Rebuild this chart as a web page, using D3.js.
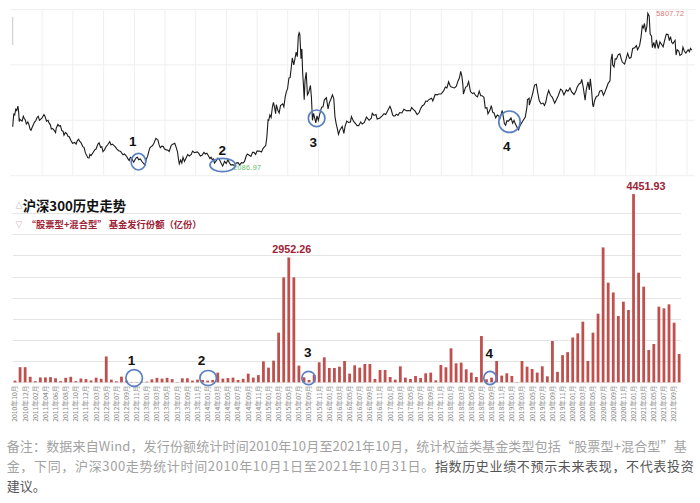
<!DOCTYPE html>
<html><head><meta charset="utf-8">
<script src="https://cdn.jsdelivr.net/npm/d3@7"></script>
<style>
html,body{margin:0;padding:0;background:#fff;}
svg{display:block;}
</style></head><body>
<svg id="c" width="700" height="503"></svg>
<script>
// ---------- DATA ----------
const categories = [
"2010年10月","2010年11月","2010年12月",
"2011年01月","2011年02月","2011年03月","2011年04月","2011年05月","2011年06月","2011年07月","2011年08月","2011年09月","2011年10月","2011年11月","2011年12月",
"2012年01月","2012年03月","2012年04月","2012年05月","2012年06月","2012年07月","2012年08月","2012年09月","2012年10月","2012年11月","2012年12月",
"2013年01月","2013年02月","2013年03月","2013年04月","2013年05月","2013年06月","2013年07月","2013年08月","2013年09月","2013年10月","2013年11月","2013年12月",
"2014年01月","2014年02月","2014年03月","2014年04月","2014年05月","2014年06月","2014年07月","2014年08月","2014年09月","2014年10月","2014年11月","2014年12月",
"2015年01月","2015年02月","2015年03月","2015年04月","2015年05月","2015年06月","2015年07月","2015年08月","2015年09月","2015年10月","2015年11月","2015年12月",
"2016年01月","2016年02月","2016年03月","2016年04月","2016年05月","2016年06月","2016年07月","2016年08月","2016年09月","2016年10月","2016年11月","2016年12月",
"2017年01月","2017年02月","2017年03月","2017年04月","2017年05月","2017年06月","2017年07月","2017年08月","2017年09月","2017年10月","2017年11月","2017年12月",
"2018年01月","2018年02月","2018年03月","2018年04月","2018年05月","2018年06月","2018年07月","2018年08月","2018年09月","2018年10月","2018年11月","2018年12月",
"2019年01月","2019年02月","2019年03月","2019年04月","2019年05月","2019年06月","2019年07月","2019年08月","2019年09月","2019年10月","2019年11月","2019年12月",
"2020年01月","2020年02月","2020年03月","2020年04月","2020年05月","2020年06月","2020年07月","2020年08月","2020年09月","2020年10月","2020年11月","2020年12月",
"2021年01月","2021年02月","2021年03月","2021年04月","2021年05月","2021年06月","2021年07月","2021年08月","2021年09月","2021年10月"
];
const issuance = [
40,358,358,
130,28,115,115,122,95,28,106,130,28,90,75,
44,110,83,612,63,24,134,40,8,8,12,
15,71,106,87,106,75,8,95,95,40,63,55,
40,55,229,87,100,110,55,83,205,110,170,496,
347,512,1174,2482,2952.26,2482,394,118,55,173,473,591,
339,339,370,504,205,402,347,433,433,79,292,292,
126,63,378,110,79,150,102,213,229,47,410,355,
804,449,465,307,229,126,1095,71,110,504,158,213,
150,8,504,370,315,229,378,142,977,248,642,713,
1060,1158,1434,504,1174,1623,3191,2356,2125,1568,1907,1710,
4451.93,2593,2262,764,906,1789,1749,1844,1410,670
];
const barPeakLabels = ["2015年05月","2021年01月"];
const barGridValues = [0,500,1000,1500,2000,2500,3000,3500,4000];

const csi300 = [
["2010-10-08",3044],["2010-10-13",3300],["2010-10-15",3350],["2010-10-20",3330],["2010-10-26",3470],["2010-11-01",3440],["2010-11-08",3545],["2010-11-12",3420],["2010-11-16",3170],["2010-11-19",3230],["2010-11-26",3200],["2010-12-03",3180],["2010-12-10",3300],["2010-12-15",3250],["2010-12-22",3210],["2010-12-28",3110],
["2011-01-06",3160],["2011-01-12",3100],["2011-01-20",2980],["2011-01-25",2960],["2011-02-01",3030],["2011-02-14",3150],["2011-02-22",3190],["2011-03-02",3270],["2011-03-09",3300],["2011-03-16",3200],["2011-03-24",3230],["2011-04-01",3260],["2011-04-12",3340],["2011-04-19",3290],["2011-04-27",3180],["2011-05-06",3200],["2011-05-13",3130],["2011-05-20",3090],["2011-05-26",2990],["2011-06-03",3000],["2011-06-13",2950],["2011-06-20",2900],["2011-06-24",3010],["2011-07-04",3100],["2011-07-11",3060],["2011-07-19",3070],["2011-07-27",2950],["2011-08-04",2930],["2011-08-09",2840],["2011-08-17",2900],["2011-08-25",2880],["2011-09-02",2810],["2011-09-09",2800],["2011-09-20",2700],["2011-09-29",2640],["2011-10-12",2660],["2011-10-20",2620],["2011-10-27",2700],["2011-11-04",2740],["2011-11-10",2690],["2011-11-18",2660],["2011-11-29",2560],["2011-12-06",2540],["2011-12-15",2400],["2011-12-23",2340],["2011-12-28",2290],
["2012-01-05",2280],["2012-01-10",2370],["2012-01-17",2340],["2012-01-31",2430],["2012-02-08",2480],["2012-02-16",2500],["2012-02-27",2620],["2012-03-05",2650],["2012-03-14",2540],["2012-03-21",2560],["2012-03-28",2440],["2012-04-06",2480],["2012-04-16",2560],["2012-04-26",2610],["2012-05-07",2680],["2012-05-15",2600],["2012-05-23",2620],["2012-05-31",2590],["2012-06-08",2560],["2012-06-19",2500],["2012-06-29",2460],["2012-07-06",2450],["2012-07-13",2430],["2012-07-25",2360],["2012-08-03",2380],["2012-08-14",2330],["2012-08-24",2260],["2012-08-31",2220],["2012-09-07",2300],["2012-09-14",2280],["2012-09-26",2180],["2012-10-12",2290],["2012-10-19",2300],["2012-10-26",2240],["2012-11-05",2260],["2012-11-16",2190],["2012-11-27",2140],["2012-12-03",2110],["2012-12-10",2250],["2012-12-18",2320],["2012-12-31",2520],
["2013-01-08",2560],["2013-01-16",2580],["2013-01-25",2640],["2013-02-06",2760],["2013-02-18",2720],["2013-02-25",2600],["2013-03-04",2530],["2013-03-13",2570],["2013-03-22",2560],["2013-03-29",2500],["2013-04-10",2480],["2013-04-19",2470],["2013-04-26",2440],["2013-05-08",2590],["2013-05-17",2620],["2013-05-29",2640],["2013-06-05",2560],["2013-06-14",2440],["2013-06-20",2260],["2013-06-25",2140],["2013-07-03",2230],["2013-07-10",2160],["2013-07-17",2300],["2013-07-26",2200],["2013-08-05",2290],["2013-08-14",2370],["2013-08-23",2330],["2013-09-04",2370],["2013-09-12",2450],["2013-09-23",2410],["2013-10-09",2430],["2013-10-18",2400],["2013-10-28",2330],["2013-11-07",2350],["2013-11-18",2420],["2013-11-27",2380],["2013-12-06",2400],["2013-12-16",2330],["2013-12-24",2270],["2013-12-31",2300],
["2014-01-07",2240],["2014-01-14",2260],["2014-01-20",2160],["2014-01-28",2200],["2014-02-10",2280],["2014-02-18",2250],["2014-02-27",2170],["2014-03-10",2087],["2014-03-14",2120],["2014-03-21",2200],["2014-03-31",2150],["2014-04-10",2240],["2014-04-18",2170],["2014-04-28",2110],["2014-05-09",2120],["2014-05-20",2090],["2014-05-30",2160],["2014-06-10",2170],["2014-06-19",2110],["2014-06-30",2170],["2014-07-10",2160],["2014-07-18",2200],["2014-07-28",2330],["2014-08-04",2380],["2014-08-15",2350],["2014-08-25",2320],["2014-09-04",2420],["2014-09-12",2420],["2014-09-22",2370],["2014-09-30",2450],["2014-10-15",2450],["2014-10-27",2430],["2014-11-05",2510],["2014-11-14",2560],["2014-11-21",2580],["2014-11-28",2800],["2014-12-05",3210],["2014-12-09",3200],["2014-12-16",3330],["2014-12-23",3270],["2014-12-31",3530],
["2015-01-06",3640],["2015-01-12",3530],["2015-01-19",3360],["2015-01-23",3580],["2015-02-02",3440],["2015-02-09",3380],["2015-02-17",3560],["2015-03-02",3600],["2015-03-09",3530],["2015-03-17",3770],["2015-03-24",3900],["2015-03-31",3970],["2015-04-08",4230],["2015-04-15",4240],["2015-04-22",4480],["2015-04-28",4720],["2015-05-07",4550],["2015-05-14",4700],["2015-05-21",4860],["2015-05-28",4750],["2015-06-03",5250],["2015-06-08",5335],["2015-06-12",5300],["2015-06-19",4700],["2015-06-24",4940],["2015-06-29",4340],["2015-07-03",4100],["2015-07-08",3700],["2015-07-13",4180],["2015-07-20",4370],["2015-07-27",3820],["2015-08-03",3870],["2015-08-14",4050],["2015-08-20",3760],["2015-08-26",3200],["2015-09-02",3370],["2015-09-15",3140],["2015-09-22",3310],["2015-09-30",3200],["2015-10-12",3410],["2015-10-20",3520],["2015-10-28",3530],["2015-11-05",3700],["2015-11-17",3750],["2015-11-27",3480],["2015-12-04",3620],["2015-12-14",3720],["2015-12-23",3820],["2015-12-31",3730],
["2016-01-04",3470],["2016-01-07",3290],["2016-01-14",3120],["2016-01-21",3000],["2016-01-28",2860],["2016-02-05",2960],["2016-02-19",3050],["2016-02-29",2880],["2016-03-07",3050],["2016-03-17",3180],["2016-03-28",3150],["2016-04-08",3160],["2016-04-14",3290],["2016-04-26",3180],["2016-05-06",3130],["2016-05-18",3070],["2016-05-27",3070],["2016-06-08",3160],["2016-06-17",3110],["2016-06-30",3150],["2016-07-12",3280],["2016-07-20",3240],["2016-07-28",3200],["2016-08-10",3250],["2016-08-16",3370],["2016-08-26",3320],["2016-09-07",3340],["2016-09-14",3230],["2016-09-28",3250],["2016-10-14",3310],["2016-10-25",3360],["2016-11-04",3340],["2016-11-14",3420],["2016-11-29",3540],["2016-12-06",3470],["2016-12-15",3330],["2016-12-23",3300],["2016-12-30",3310],
["2017-01-06",3350],["2017-01-16",3320],["2017-01-26",3390],["2017-02-08",3380],["2017-02-20",3470],["2017-02-28",3450],["2017-03-09",3430],["2017-03-17",3440],["2017-03-30",3430],["2017-04-07",3510],["2017-04-18",3460],["2017-04-27",3430],["2017-05-10",3340],["2017-05-22",3390],["2017-05-31",3490],["2017-06-09",3550],["2017-06-21",3590],["2017-06-30",3670],["2017-07-10",3660],["2017-07-17",3700],["2017-07-26",3720],["2017-08-04",3740],["2017-08-11",3670],["2017-08-25",3830],["2017-09-06",3820],["2017-09-15",3840],["2017-09-29",3840],["2017-10-13",3910],["2017-10-25",4010],["2017-11-03",3990],["2017-11-13",4140],["2017-11-23",4030],["2017-11-30",4010],["2017-12-08",4000],["2017-12-18",3990],["2017-12-29",4030],
["2018-01-08",4160],["2018-01-16",4230],["2018-01-24",4390],["2018-01-31",4270],["2018-02-06",4060],["2018-02-09",3840],["2018-02-22",4010],["2018-03-02",4020],["2018-03-12",4140],["2018-03-23",3900],["2018-04-04",3850],["2018-04-13",3870],["2018-04-23",3800],["2018-05-04",3770],["2018-05-14",3910],["2018-05-23",3800],["2018-05-31",3800],["2018-06-11",3760],["2018-06-19",3500],["2018-06-29",3510],["2018-07-05",3360],["2018-07-17",3450],["2018-07-25",3560],["2018-08-02",3400],["2018-08-10",3380],["2018-08-20",3260],["2018-08-30",3330],["2018-09-07",3310],["2018-09-14",3240],["2018-09-28",3440],["2018-10-11",3120],["2018-10-18",3080],["2018-10-26",3190],["2018-11-05",3180],["2018-11-19",3260],["2018-11-29",3130],["2018-12-07",3200],["2018-12-14",3120],["2018-12-24",3040],["2018-12-28",3010],
["2019-01-03",2970],["2019-01-11",3060],["2019-01-22",3140],["2019-01-31",3200],["2019-02-12",3280],["2019-02-22",3520],["2019-02-25",3700],["2019-03-07",3740],["2019-03-08",3570],["2019-03-20",3730],["2019-03-29",3870],["2019-04-08",4060],["2019-04-19",4080],["2019-04-26",3900],["2019-05-06",3680],["2019-05-17",3600],["2019-05-29",3620],["2019-06-06",3560],["2019-06-14",3640],["2019-06-21",3790],["2019-07-01",3930],["2019-07-12",3810],["2019-07-23",3760],["2019-08-06",3620],["2019-08-16",3700],["2019-08-27",3800],["2019-09-10",3960],["2019-09-19",3930],["2019-09-30",3820],["2019-10-14",3940],["2019-10-24",3910],["2019-11-05",3990],["2019-11-14",3900],["2019-11-29",3830],["2019-12-09",3900],["2019-12-18",4010],["2019-12-31",4100],
["2020-01-08",4110],["2020-01-14",4200],["2020-01-23",4000],["2020-02-03",3690],["2020-02-10",3950],["2020-02-20",4140],["2020-02-28",3940],["2020-03-05",4210],["2020-03-12",3950],["2020-03-19",3590],["2020-03-23",3530],["2020-03-31",3690],["2020-04-10",3780],["2020-04-21",3800],["2020-04-30",3910],["2020-05-12",3930],["2020-05-22",3810],["2020-05-29",3870],["2020-06-10",4000],["2020-06-19",4100],["2020-06-30",4160],["2020-07-03",4400],["2020-07-06",4670],["2020-07-13",4820],["2020-07-16",4550],["2020-07-24",4500],["2020-07-31",4700],["2020-08-07",4690],["2020-08-18",4800],["2020-08-28",4820],["2020-09-04",4710],["2020-09-11",4620],["2020-09-25",4570],["2020-10-13",4830],["2020-10-23",4710],["2020-11-02",4730],["2020-11-12",4950],["2020-11-24",4970],["2020-12-04",5020],["2020-12-11",4920],["2020-12-23",5020],["2020-12-31",5210],
["2021-01-08",5500],["2021-01-14",5450],["2021-01-21",5560],["2021-01-28",5350],["2021-02-04",5480],["2021-02-10",5808],["2021-02-18",5740],["2021-02-24",5300],["2021-03-04",5250],["2021-03-09",4970],["2021-03-18",5100],["2021-03-25",4950],["2021-04-02",5160],["2021-04-13",4950],["2021-04-23",5110],["2021-05-06",5030],["2021-05-12",4990],["2021-05-20",5130],["2021-05-31",5300],["2021-06-10",5290],["2021-06-18",5140],["2021-06-25",5240],["2021-07-02",5100],["2021-07-09",5070],["2021-07-22",5150],["2021-07-28",4790],["2021-08-04",4920],["2021-08-13",4890],["2021-08-20",4780],["2021-08-31",4810],["2021-09-07",4980],["2021-09-15",4890],["2021-09-24",4840],["2021-10-08",4920],["2021-10-15",4870],["2021-10-22",4950],["2021-10-29",4910]
];
const csiHigh = ["2021-02-10", 5807.72];
const csiLow = ["2014-03-10", 2086.97];
const topGridValues = [1850, 3200, 4550, 5900];

// annotation anchors
const topMarks = [
  {label:"1", date:"2012-10-25", value:2192},
  {label:"2", date:"2014-03-10", value:2111},
  {label:"3", date:"2015-09-20", value:3249},
  {label:"4", date:"2018-11-10", value:3166}
];
const barMarks = [
  {label:"1", pos:23.5},
  {label:"2", pos:38.1},
  {label:"3", pos:57.9},
  {label:"4", pos:93.7}
];

const titleText = "沪深300历史走势";
const seriesText = "“股票型+混合型” 基金发行份额（亿份）";
const note1 = "备注：数据来自Wind，发行份额统计时间2010年10月至2021年10月，统计权益类基金类型包括“股票型+混合型”基";
const note2a = "金，下同，沪深300走势统计时间2010年10月1日至2021年10月31日。";
const note2b = "指数历史业绩不预示未来表现，不代表投资";
const note3 = "建议。";

// ---------- DRAW ----------
const svg = d3.select("#c");
const parse = d3.timeParse("%Y-%m-%d");
const CJK = "'Noto Sans CJK SC','Noto Sans',sans-serif";
const ARIAL = "'Liberation Sans',Arial,sans-serif";

// top chart scales
const xTop = d3.scaleTime().domain([parse("2010-10-08"), parse("2021-10-29")]).range([12.7, 691.7]);
const yTop = d3.scaleLinear().domain([5807.72, 2086.97]).range([13.3, 166]);

// top grid
const gTop = svg.append("g");
const vTicks = d3.timeMonth.range(new Date(2011,3,1), new Date(2021,10,2), 6);
gTop.selectAll("line.v").data(vTicks).join("line")
  .attr("x1", d=>xTop(d)).attr("x2", d=>xTop(d))
  .attr("y1", yTop(topGridValues[3])).attr("y2", yTop(topGridValues[0]))
  .attr("stroke", "#efefef").attr("stroke-width", 1);
gTop.selectAll("line.h").data(topGridValues).join("line")
  .attr("x1", 10).attr("x2", 695)
  .attr("y1", d=>yTop(d)).attr("y2", d=>yTop(d))
  .attr("stroke", "#efefef").attr("stroke-width", 1);
gTop.append("line").attr("x1", 12.7).attr("x2", 12.7).attr("y1", 17).attr("y2", 45)
  .attr("stroke", "#c8c8c8").attr("stroke-width", 1);

// top line
const line = d3.line().x(d=>xTop(parse(d[0]))).y(d=>yTop(d[1]));
gTop.append("path").datum(csi300).attr("d", line)
  .attr("fill","none").attr("stroke","#1b1b1b").attr("stroke-width",1.1).attr("stroke-linejoin","miter");

// high / low labels
gTop.append("text").attr("x", xTop(parse(csiHigh[0]))+8.5).attr("y", yTop(csiHigh[1])+2.3)
  .text(csiHigh[1].toFixed(2)).attr("font-family", ARIAL).attr("font-size", 7.2)
  .attr("fill", "#e07272").attr("letter-spacing", 0.3);
gTop.append("text").attr("x", xTop(parse(csiLow[0]))+10.5).attr("y", yTop(csiLow[1])+4.2)
  .text(csiLow[1].toFixed(2)).attr("font-family", ARIAL).attr("font-size", 7.2)
  .attr("fill", "#66bb6a").attr("letter-spacing", 0.3);

// top circles
const topCircleGeom = [{rx:7.3,ry:8.3,dx:-5.6,dy:-20},{rx:12.7,ry:6.7,dx:-0.4,dy:-14.3},{rx:8.3,ry:8.3,dx:-3.4,dy:24.4},{rx:10.7,ry:10.7,dx:-2.6,dy:25}];
topMarks.forEach((m,i)=>{
  const cx = xTop(parse(m.date)), cy = yTop(m.value), g = topCircleGeom[i];
  gTop.append("ellipse").attr("cx",cx).attr("cy",cy).attr("rx",g.rx).attr("ry",g.ry)
    .attr("fill","none").attr("stroke","#5b80c2").attr("stroke-width",1.7);
  gTop.append("text").attr("x",cx+g.dx).attr("y",cy+g.dy+4.7).attr("text-anchor","middle")
    .text(m.label).attr("font-family",ARIAL).attr("font-weight","bold").attr("font-size",13.5).attr("fill","#111");
});

// ---------- bar chart ----------
const xBar = d3.scaleBand().domain(categories).range([12.46, 681.7]).paddingInner(0.45).paddingOuter(0.225);
const yBar = d3.scaleLinear().domain([0,4000]).range([382.3, 213.2]);
const step = xBar.step();
const bx = i => xBar(categories[0]) - xBar.paddingOuter()*0 + step*i + xBar.bandwidth()/2;

const gBar = svg.append("g");
gBar.selectAll("line.g").data(barGridValues).join("line")
  .attr("x1", 13).attr("x2", 681)
  .attr("y1", d=>Math.round(yBar(d))+0.5).attr("y2", d=>Math.round(yBar(d))+0.5)
  .attr("stroke", "#e4e4e4").attr("stroke-width", 1);

// legend/title
gBar.append("text").attr("x", 15.5).attr("y", 207.5).text("△")
  .attr("font-family", CJK).attr("font-size", 7).attr("fill", "#777");
gBar.append("text").attr("x", 22.7).attr("y", 211).text(titleText)
  .attr("font-family", CJK).attr("font-weight", "bold").attr("font-size", 13.3).attr("fill", "#111");
gBar.append("text").attr("x", 15.5).attr("y", 227).text("▽")
  .attr("font-family", CJK).attr("font-size", 7).attr("fill", "#a07070");
gBar.append("text").attr("x", 26.7).attr("y", 228).text(seriesText)
  .attr("font-family", CJK).attr("font-weight", "bold").attr("font-size", 9.3).attr("fill", "#9e2236");

// bars
gBar.selectAll("rect.bar").data(issuance).join("rect")
  .attr("x", (d,i)=>xBar(categories[i]))
  .attr("width", xBar.bandwidth())
  .attr("y", d=>yBar(d))
  .attr("height", d=>yBar(0)-yBar(d))
  .attr("fill", "#c0504d");

// peak labels
const peakDx = [3, 12.5];
barPeakLabels.forEach((c,k)=>{
  const i = categories.indexOf(c);
  gBar.append("text").attr("x", xBar(c)+xBar.bandwidth()/2+peakDx[k]).attr("y", yBar(issuance[i])-4.5)
    .attr("text-anchor","middle").text(issuance[i].toFixed(2))
    .attr("font-family", ARIAL).attr("font-weight","bold").attr("font-size", 10.8).attr("fill", "#9e2236");
});

// x labels
gBar.selectAll("text.xl").data(categories.filter((d,i)=>i%2===0)).join("text")
  .attr("transform", d=>`translate(${xBar(d)+xBar.bandwidth()/2+2.4},385.5) rotate(-90)`)
  .attr("text-anchor","end").text(d=>d)
  .attr("font-family", CJK).attr("font-size", 6.8).attr("fill", "#8a8a8a");

// bar circles
const barCircleGeom = [{rx:8.3,ry:8.3,dx:-2.6,dy:-18},{rx:8.3,ry:7.5,dx:-6.6,dy:-17.3},{rx:6.7,ry:6.7,dx:-0.7,dy:-26},{rx:6.3,ry:6.6,dx:-0.7,dy:-25}];
barMarks.forEach((m,i)=>{
  const cx = xBar(categories[0]) + xBar.bandwidth()/2 + step*m.pos;
  const cy = yBar(0) - 4.3, g = barCircleGeom[i];
  gBar.append("ellipse").attr("cx",cx).attr("cy",cy).attr("rx",g.rx).attr("ry",g.ry)
    .attr("fill","none").attr("stroke","#5b80c2").attr("stroke-width",1.7);
  gBar.append("text").attr("x",cx+g.dx).attr("y",cy+g.dy+4.7).attr("text-anchor","middle")
    .text(m.label).attr("font-family",ARIAL).attr("font-weight","bold").attr("font-size",13.5).attr("fill","#111");
});

// footer notes
const gN = svg.append("g").attr("font-family", CJK).attr("font-size", 13);
gN.append("text").attr("x", 6.7).attr("y", 451).attr("fill", "#a2a2a2")
  .attr("textLength", 680).attr("lengthAdjust","spacing").text(note1);
const t2 = gN.append("text").attr("x", 6.7).attr("y", 471)
  .attr("textLength", 687).attr("lengthAdjust","spacing");
t2.append("tspan").attr("fill", "#a2a2a2").text(note2a);
t2.append("tspan").attr("fill", "#555").text(note2b);
gN.append("text").attr("x", 6.7).attr("y", 490.5).attr("fill", "#555").text(note3);
</script>
</body></html>
